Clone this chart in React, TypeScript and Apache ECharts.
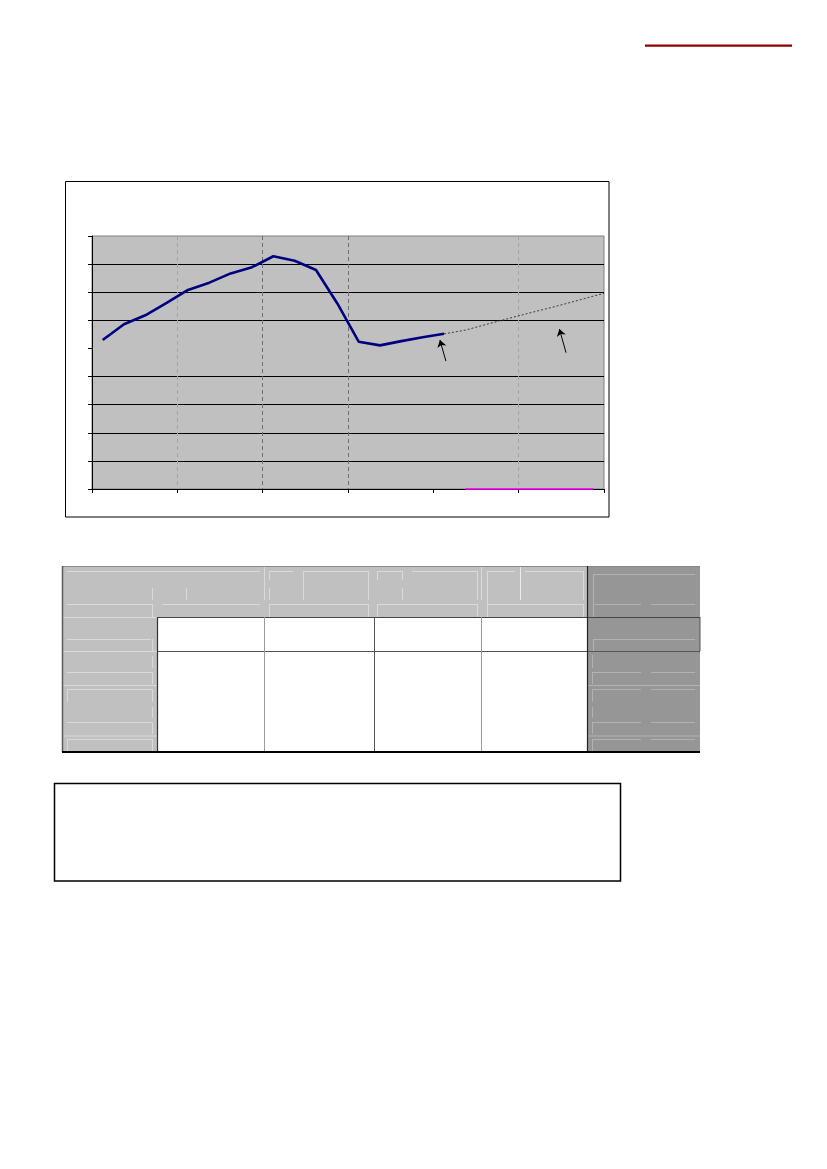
import React, { useEffect, useRef } from 'react';
import * as echarts from 'echarts';

// observed values, one per period (plotted at the middle of each slot)
const actualValues = [53.0, 58.6, 61.8, 66.2, 70.8, 73.4, 76.7, 78.9, 82.8, 81.2, 77.9, 66.0, 52.4, 51.1, 52.6, 54.0, 55.2];
// projected trend, dotted
const forecastX = [16.5, 17.5, 18.5, 19.5, 20.5, 21.5, 22.5, 23.5, 24];
const forecastValues = [55.2, 56.5, 58.6, 60.6, 62.6, 64.5, 66.5, 68.6, 69.6];
// annotation arrows (tail -> head)
const arrowTails = [[16.59, 45.5], [22.22, 48.5]];
const arrowHeads = [[16.31, 53.0], [21.91, 56.9]];
const highlightRange = [17.5, 23.5];

const xMax = 24;
const xStep = 4;
const yMax = 90;
const yStep = 10;

const LIGHT = '#dadada';
const DARKLIGHT = '#b2b2b2';

// table decoration lines: x1, y1, x2, y2, colour, width
const tableLines: [number, number, number, number, string, number][] = [
  // header, first block
  [67, 571.5, 260, 571.5, LIGHT, 1],
  [152.5, 588, 152.5, 600, LIGHT, 1],
  [152.5, 604, 152.5, 617, LIGHT, 1],
  [186.5, 588, 186.5, 600, LIGHT, 1],
  [67, 604.5, 152, 604.5, LIGHT, 1],
  [162, 604.5, 260, 604.5, LIGHT, 1],
  [264.5, 566, 264.5, 600, LIGHT, 1],
  // header, col 2
  [269, 571.5, 293, 571.5, LIGHT, 1],
  [303, 571.5, 368, 571.5, LIGHT, 1],
  [269.5, 571, 269.5, 580, LIGHT, 1],
  [269.5, 588, 269.5, 600, LIGHT, 1],
  [269.5, 604, 269.5, 617, LIGHT, 1],
  [303.5, 571, 303.5, 600, LIGHT, 1],
  [368.5, 571, 368.5, 600, LIGHT, 1],
  [368.5, 604, 368.5, 617, LIGHT, 1],
  [269, 604.5, 368, 604.5, LIGHT, 1],
  // header, col 3
  [377, 571.5, 402, 571.5, LIGHT, 1],
  [412, 571.5, 477, 571.5, LIGHT, 1],
  [377.5, 571, 377.5, 580, LIGHT, 1],
  [377.5, 604, 377.5, 617, LIGHT, 1],
  [402.5, 571, 402.5, 580, LIGHT, 1],
  [402.5, 588, 402.5, 600, LIGHT, 1],
  [477.5, 571, 477.5, 600, LIGHT, 1],
  [477.5, 604, 477.5, 617, LIGHT, 1],
  [377, 604.5, 477, 604.5, LIGHT, 1],
  [481.5, 566, 481.5, 600, LIGHT, 1],
  // header, col 4
  [487, 571.5, 515, 571.5, LIGHT, 1],
  [525, 571.5, 583, 571.5, LIGHT, 1],
  [487.5, 571, 487.5, 617, LIGHT, 1],
  [520.5, 566, 520.5, 600, '#ececec', 1],
  [583.5, 571, 583.5, 600, LIGHT, 1],
  [583.5, 604, 583.5, 617, LIGHT, 1],
  [487, 604.5, 583, 604.5, LIGHT, 1],
  // left column body
  [62, 617.5, 157, 617.5, LIGHT, 1],
  [67, 639.5, 151, 639.5, LIGHT, 1],
  [152.5, 639, 152.5, 651, LIGHT, 1],
  [62, 651.5, 157, 651.5, LIGHT, 1],
  [152.5, 656, 152.5, 668, LIGHT, 1],
  [67, 672.5, 152, 672.5, LIGHT, 1],
  [152.5, 672, 152.5, 684, LIGHT, 1],
  [62, 685.5, 157, 685.5, LIGHT, 1],
  [67, 689.5, 152, 689.5, LIGHT, 1],
  [67.5, 689, 67.5, 702, LIGHT, 1],
  [152.5, 689, 152.5, 702, LIGHT, 1],
  [152.5, 707, 152.5, 718, LIGHT, 1],
  [67, 722.5, 152, 722.5, LIGHT, 1],
  [152.5, 722, 152.5, 734, LIGHT, 1],
  [62, 736, 157, 736, LIGHT, 1],
  [67, 739.5, 152, 739.5, LIGHT, 1],
  [67.5, 739, 67.5, 752, LIGHT, 1],
  [152.5, 739, 152.5, 752, LIGHT, 1],
  // dark column
  [593, 574.5, 695, 574.5, DARKLIGHT, 1],
  [593.5, 574, 593.5, 617, DARKLIGHT, 1],
  [593, 604.5, 641, 604.5, DARKLIGHT, 1],
  [651, 604.5, 695, 604.5, DARKLIGHT, 1],
  [593, 639.5, 695, 639.5, DARKLIGHT, 1],
  [593.5, 639, 593.5, 651, DARKLIGHT, 1],
  [592.5, 655, 592.5, 668, DARKLIGHT, 1],
  [592, 672.5, 641, 672.5, DARKLIGHT, 1],
  [651, 672.5, 695, 672.5, DARKLIGHT, 1],
  [592.5, 672, 592.5, 684, DARKLIGHT, 1],
  [587, 685.5, 700, 685.5, DARKLIGHT, 1],
  [592, 689.5, 641, 689.5, DARKLIGHT, 1],
  [651, 689.5, 695, 689.5, DARKLIGHT, 1],
  [592.5, 689, 592.5, 702, DARKLIGHT, 1],
  [592.5, 707, 592.5, 718, DARKLIGHT, 1],
  [592, 722.5, 641, 722.5, DARKLIGHT, 1],
  [651, 722.5, 695, 722.5, DARKLIGHT, 1],
  [592.5, 722, 592.5, 734, DARKLIGHT, 1],
  [587, 736, 700, 736, DARKLIGHT, 1],
  [592, 739.5, 641, 739.5, DARKLIGHT, 1],
  [651, 739.5, 695, 739.5, DARKLIGHT, 1],
  [592.5, 739, 592.5, 752, DARKLIGHT, 1],
  // grid lines of the table
  [62, 566.5, 700, 566.5, '#8a8a8a', 1],
  [62.5, 566, 62.5, 752, '#5a5a5a', 1.5],
  [157, 617.5, 700, 617.5, '#444', 1.2],
  [157, 651.5, 700, 651.5, '#555', 1.2],
  [157.5, 617, 157.5, 752, '#333', 1.2],
  [264.5, 617, 264.5, 752, '#9a9a9a', 1],
  [374.5, 617, 374.5, 752, '#555', 1],
  [481.5, 617, 481.5, 752, '#9a9a9a', 1],
  [587.5, 566, 587.5, 752, '#222', 1.2],
  [700, 617, 700, 651, '#555', 1],
  [62, 752, 700, 752, '#000', 2],
];

const App: React.FC = () => {
  const chartRef = useRef<HTMLDivElement>(null);

  useEffect(() => {
    const chart = echarts.init(chartRef.current, null, { renderer: 'svg' });

    const actualData = actualValues.map((v, i) => [i + 0.5, v]);
    const forecastData = forecastValues.map((v, i) => [forecastX[i], v]);

    const arrows = arrowTails.map((t, i) => [
      { coord: t, symbol: 'none' },
      { coord: arrowHeads[i], symbol: 'arrow', symbolSize: 7 },
    ]);

    const graphic: any[] = [
      // red rule at top right
      { type: 'rect', silent: true, shape: { x: 645, y: 44.5, width: 147, height: 2.3 }, style: { fill: '#8e0000' } },
      // chart frame
      { type: 'rect', silent: true, shape: { x: 65.5, y: 181.5, width: 543.5, height: 335.5 }, style: { fill: 'transparent', stroke: '#000', lineWidth: 1 } },
      // table fills
      { type: 'rect', silent: true, shape: { x: 62, y: 566, width: 526, height: 186 }, style: { fill: '#c0c0c0' } },
      { type: 'rect', silent: true, shape: { x: 587, y: 566, width: 113, height: 186 }, style: { fill: '#969696' } },
      { type: 'rect', silent: true, shape: { x: 157, y: 617, width: 431, height: 135 }, style: { fill: '#ffffff' } },
      ...tableLines.map(([x1, y1, x2, y2, c, w]) => ({
        type: 'line',
        silent: true,
        shape: { x1, y1, x2, y2 },
        style: { stroke: c, lineWidth: w },
      })),
      // text box
      { type: 'rect', silent: true, shape: { x: 54.5, y: 783.5, width: 566, height: 97.5 }, style: { fill: 'transparent', stroke: '#000', lineWidth: 1.5 } },
    ];

    const option = {
      animation: false,
      graphic,
      grid: {
        left: 92,
        top: 236,
        width: 512,
        height: 253,
        show: true,
        backgroundColor: '#c0c0c0',
        borderColor: '#808080',
        borderWidth: 1,
        containLabel: false,
        outerBoundsMode: 'none',
      },
      xAxis: {
        type: 'value',
        min: 0,
        max: xMax,
        interval: xStep,
        axisLine: { show: true, onZero: false, lineStyle: { color: '#000', width: 1 } },
        axisTick: { show: true, length: 4, lineStyle: { color: '#000' } },
        axisLabel: { show: false },
        splitLine: {
          show: true,
          lineStyle: {
            type: [4, 3],
            width: 1,
            color: ['transparent', '#a4a4a4', '#6e6e6e', '#6e6e6e', 'transparent', '#a4a4a4', 'transparent'],
          },
        },
      },
      yAxis: {
        type: 'value',
        min: 0,
        max: yMax,
        interval: yStep,
        axisLine: { show: true, onZero: false, lineStyle: { color: '#000', width: 1 } },
        axisTick: { show: true, length: 4, lineStyle: { color: '#000' } },
        axisLabel: { show: false },
        splitLine: {
          show: true,
          lineStyle: {
            width: 1,
            color: ['transparent', '#000', '#000', '#000', '#000', 'transparent', '#000', '#000', '#000', 'transparent'],
          },
        },
      },
      series: [
        {
          type: 'line',
          data: forecastData,
          symbol: 'none',
          lineStyle: { color: '#3a3a3a', width: 1, type: [2, 2] },
          z: 3,
          markLine: {
            silent: true,
            animation: false,
            label: { show: false },
            lineStyle: { color: '#000', width: 1, type: 'solid' },
            data: arrows,
          },
        },
        {
          type: 'line',
          data: actualData,
          symbol: 'none',
          lineStyle: { color: '#000080', width: 2.6 },
          z: 4,
          markLine: {
            silent: true,
            animation: false,
            symbol: ['none', 'none'],
            label: { show: false },
            lineStyle: { color: '#ff00ff', width: 1.5, type: 'solid' },
            data: [[{ coord: [highlightRange[0], 0] }, { coord: [highlightRange[1], 0] }]],
          },
        },
      ],
    };

    chart.setOption(option);

    return () => {
      chart.dispose();
    };
  }, []);

  return (
    <div
      ref={chartRef}
      style={{ position: 'absolute', left: 0, top: 0, width: '827px', height: '1169px', background: '#fff' }}
    />
  );
};

export default App;
